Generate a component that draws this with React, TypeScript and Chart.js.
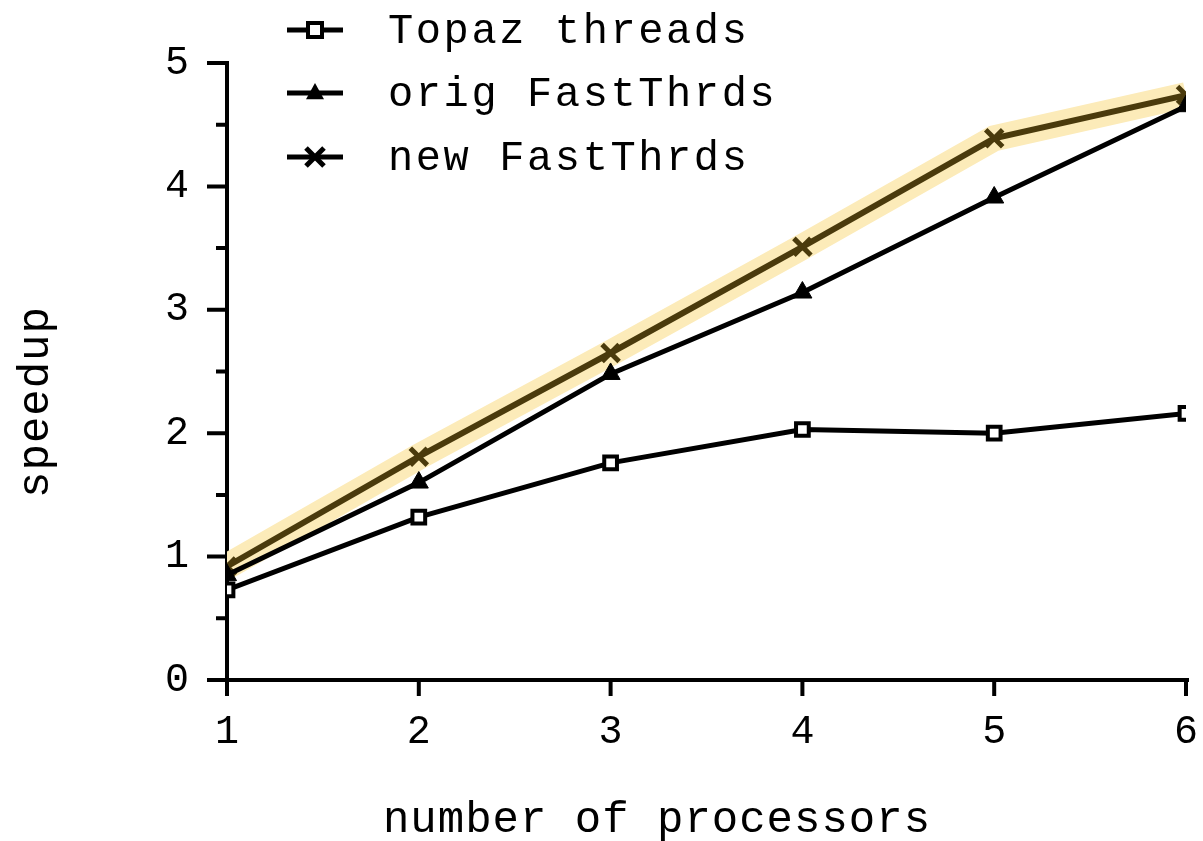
import React, { useEffect, useRef } from "react";
import { Chart, registerables } from "chart.js";

Chart.register(...registerables);

const processors = [1, 2, 3, 4, 5, 6];
const topazThreads = [0.73, 1.32, 1.76, 2.03, 2.0, 2.16];
const origFastThrds = [0.85, 1.6, 2.48, 3.14, 3.91, 4.65];
const newFastThrds = [0.92, 1.81, 2.65, 3.51, 4.39, 4.74];
const yMajorTicks = [0, 1, 2, 3, 4, 5];
const yMinorTicks = [0.5, 1.5, 2.5, 3.5, 4.5];
const seriesNames = ["Topaz threads", "orig FastThrds", "new FastThrds"];
const xTitle = "number of processors";
const yTitle = "speedup";

const FONT = "'Liberation Mono', 'Courier New', monospace";
const INK = "#000000";
const BROWN = "#4a3a0c";
const HIGHLIGHT = "#fcebb9";

function drawMarker(ctx: CanvasRenderingContext2D, style: string, x: number, y: number, r: number, color: string) {
  ctx.save();
  ctx.strokeStyle = color;
  ctx.fillStyle = color;
  ctx.lineWidth = 4;
  if (style === "rect") {
    ctx.fillStyle = "#ffffff";
    ctx.fillRect(x - r, y - r, 2 * r, 2 * r);
    ctx.strokeRect(x - r, y - r, 2 * r, 2 * r);
  } else if (style === "triangle") {
    ctx.beginPath();
    ctx.moveTo(x, y - r * 1.1);
    ctx.lineTo(x + r, y + r * 0.7);
    ctx.lineTo(x - r, y + r * 0.7);
    ctx.closePath();
    ctx.fill();
  } else {
    ctx.lineWidth = 5;
    ctx.beginPath();
    ctx.moveTo(x - r, y - r);
    ctx.lineTo(x + r, y + r);
    ctx.moveTo(x + r, y - r);
    ctx.lineTo(x - r, y + r);
    ctx.stroke();
  }
  ctx.restore();
}

const paperPlugin = {
  id: "paperAxes",
  beforeDatasetsDraw(chart: any) {
    const { ctx } = chart;
    const xs = chart.scales.x;
    const ys = chart.scales.y;
    const x0 = xs.getPixelForValue(processors[0]);
    const x1 = xs.getPixelForValue(processors[processors.length - 1]);
    const y0 = ys.getPixelForValue(0);
    const yTop = ys.getPixelForValue(5);
    ctx.save();
    ctx.strokeStyle = INK;
    ctx.lineCap = "butt";
    ctx.lineWidth = 4;
    ctx.beginPath();
    ctx.moveTo(x0, yTop - 2);
    ctx.lineTo(x0, y0 + 14);
    ctx.moveTo(x0 - 10, y0);
    ctx.lineTo(x1 + 3, y0);
    ctx.stroke();
    ctx.lineWidth = 4;
    ctx.beginPath();
    for (const v of yMajorTicks) {
      const p = ys.getPixelForValue(v);
      ctx.moveTo(x0 - 20, p);
      ctx.lineTo(x0, p);
    }
    for (const v of yMinorTicks) {
      const p = ys.getPixelForValue(v);
      ctx.moveTo(x0 - 11, p);
      ctx.lineTo(x0, p);
    }
    for (const v of processors) {
      const p = xs.getPixelForValue(v);
      ctx.moveTo(p, y0);
      ctx.lineTo(p, y0 + 16);
    }
    ctx.stroke();

    // axis titles
    ctx.fillStyle = INK;
    ctx.font = `44px ${FONT}`;
    (ctx as any).letterSpacing = "1px";
    ctx.textAlign = "center";
    ctx.textBaseline = "middle";
    ctx.fillText(xTitle, 657, 820);
    ctx.save();
    ctx.translate(36, 402);
    ctx.rotate(-Math.PI / 2);
    ctx.fillText(yTitle, 0, 0);
    ctx.restore();
    ctx.restore();
  },
  afterDraw(chart: any) {
    const { ctx } = chart;
    const rows = [30, 93, 157];
    const styles = ["rect", "triangle", "crossRot"];
    ctx.save();
    for (let i = 0; i < 3; i++) {
      const y = rows[i];
      ctx.strokeStyle = INK;
      ctx.lineWidth = 5;
      ctx.beginPath();
      ctx.moveTo(287, y);
      ctx.lineTo(343, y);
      ctx.stroke();
      drawMarker(ctx, styles[i], 315, y, i === 0 ? 7 : 9, INK);
      ctx.fillStyle = INK;
      ctx.font = `42px ${FONT}`;
      (ctx as any).letterSpacing = "2.6px";
      ctx.textBaseline = "middle";
      ctx.textAlign = "left";
      ctx.fillText(seriesNames[i], 388, y + 2);
    }
    ctx.restore();
  },
};

export default function App() {
  const ref = useRef<HTMLCanvasElement | null>(null);
  useEffect(() => {
    if (!ref.current) return;
    const chart = new Chart(ref.current, {
      type: "line",
      data: {
        datasets: [
          {
            label: seriesNames[0],
            data: processors.map((p, i) => ({ x: p, y: topazThreads[i] })),
            borderColor: INK,
            borderWidth: 5,
            pointStyle: "rect",
            pointRadius: 9,
            pointBorderWidth: 4,
            pointBackgroundColor: "#ffffff",
            pointBorderColor: INK,
          },
          {
            label: seriesNames[1],
            data: processors.map((p, i) => ({ x: p, y: origFastThrds[i] })),
            borderColor: INK,
            borderWidth: 5,
            pointStyle: "triangle",
            pointRadius: 11,
            pointBorderWidth: 1,
            pointBackgroundColor: INK,
            pointBorderColor: INK,
          },
          {
            label: seriesNames[2],
            data: processors.map((p, i) => ({ x: p, y: newFastThrds[i] })),
            borderColor: BROWN,
            borderWidth: 6,
            pointStyle: "crossRot",
            pointRadius: 12,
            pointBorderWidth: 5,
            pointBackgroundColor: BROWN,
            pointBorderColor: BROWN,
          },
          {
            label: "highlight",
            data: processors.map((p, i) => ({ x: p, y: newFastThrds[i] })),
            borderColor: HIGHLIGHT,
            borderWidth: 26,
            pointRadius: 0,
            borderCapStyle: "butt",
          },
        ],
      },
      options: {
        responsive: false,
        animation: false,
        events: [],
        layout: { padding: { top: 63, right: 16, left: 0, bottom: 0 } },
        plugins: { legend: { display: false }, tooltip: { enabled: false } },
        scales: {
          x: {
            type: "linear",
            min: 1,
            max: 6,
            grid: { display: false },
            border: { display: false },
            ticks: {
              stepSize: 1,
              color: INK,
              padding: 20,
              font: { family: FONT, size: 40 },
            },
            afterFit: (s: any) => {
              s.height = 161;
              s.paddingLeft = 0;
              s.paddingRight = 0;
            },
          },
          y: {
            type: "linear",
            min: 0,
            max: 5,
            grid: { display: false },
            border: { display: false },
            ticks: {
              stepSize: 1,
              color: INK,
              padding: 30,
              font: { family: FONT, size: 40 },
            },
            afterFit: (s: any) => {
              s.width = 227;
              s.paddingTop = 0;
              s.paddingBottom = 0;
            },
          },
        },
      },
      plugins: [paperPlugin],
    });
    return () => chart.destroy();
  }, []);
  return (
    <div style={{ position: "absolute", left: 0, top: 0, width: 1203, height: 841, background: "#fff" }}>
      <canvas ref={ref} width={1203} height={841} />
    </div>
  );
}
